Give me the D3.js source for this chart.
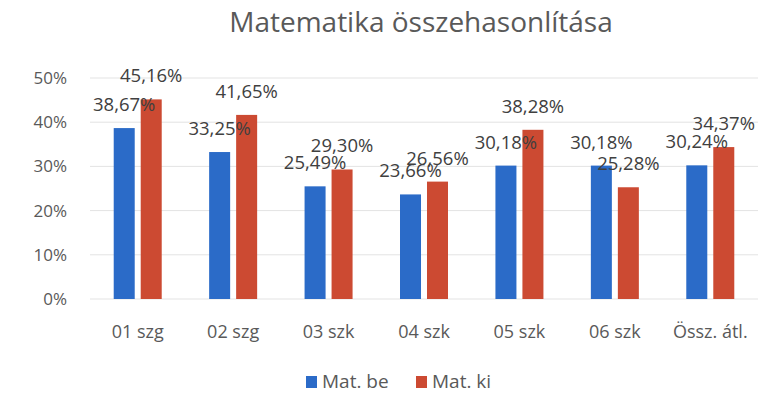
<!DOCTYPE html>
<html>
<head>
<meta charset="utf-8">
<script src="https://cdn.jsdelivr.net/npm/d3@7"></script>
<style>
  body { margin: 0; background: #fff; }
  svg { display: block; font-family: "Open Sans", sans-serif; }
</style>
</head>
<body>
<div class="svg-container"></div>
<script>
// chart data
const categories = ["01 szg", "02 szg", "03 szk", "04 szk", "05 szk", "06 szk", "Össz. átl."];
const seriesNames = ["Mat. be", "Mat. ki"];
const matBe = [38.67, 33.25, 25.49, 23.66, 30.18, 30.18, 30.24];
const matKi = [45.16, 41.65, 29.30, 26.56, 38.28, 25.28, 34.37];
const yTicks = [0, 10, 20, 30, 40, 50];
const colors = ["#2b6bc8", "#cc4a32"];

const width = 773, height = 414;
const svg = d3.select(".svg-container").append("svg")
    .attr("width", width).attr("height", height);

const x0 = d3.scaleBand().domain(categories).range([90, 758]);
const x1 = d3.scaleBand().domain(seriesNames).range([-24, 24]).paddingInner(0.222);
const y = d3.scaleLinear().domain([0, 50]).range([299, 78]);

// gridlines
svg.append("g").selectAll("line").data(yTicks).enter().append("line")
    .attr("x1", 90).attr("x2", 758)
    .attr("y1", d => y(d)).attr("y2", d => y(d))
    .attr("stroke", "#e3e3e3").attr("stroke-width", 1);

// y labels
svg.append("g").selectAll("text").data(yTicks).enter().append("text")
    .attr("x", 67).attr("y", d => y(d) + 6)
    .attr("text-anchor", "end")
    .attr("font-size", "17px").attr("fill", "#595959")
    .text(d => d + "%");

const fmt = v => v.toFixed(2).replace(".", ",") + "%";
const series = [matBe, matKi];

series.forEach((vals, si) => {
    const g = svg.append("g");
    g.selectAll("rect").data(vals).enter().append("rect")
        .attr("x", (d, i) => x0(categories[i]) + x0.bandwidth() / 2 + x1(seriesNames[si]))
        .attr("width", x1.bandwidth())
        .attr("y", d => y(d))
        .attr("height", d => y(0) - y(d))
        .attr("fill", colors[si]);
});

// data labels drawn after bars so they overlap like the original
series.forEach((vals, si) => {
    svg.append("g").selectAll("text").data(vals).enter().append("text")
        .attr("x", (d, i) => x0(categories[i]) + x0.bandwidth() / 2 + x1(seriesNames[si]) + x1.bandwidth() / 2)
        .attr("y", d => y(d) - 17)
        .attr("text-anchor", "middle")
        .attr("font-size", "18.5px").attr("fill", "#404040")
        .text(d => fmt(d));
});

// x labels
svg.append("g").selectAll("text").data(categories).enter().append("text")
    .attr("x", d => x0(d) + x0.bandwidth() / 2)
    .attr("y", 338)
    .attr("text-anchor", "middle")
    .attr("font-size", "18px").attr("fill", "#595959")
    .text(d => d);

// title
svg.append("text")
    .attr("x", 421).attr("y", 32)
    .attr("text-anchor", "middle")
    .attr("font-size", "28px").attr("fill", "#595959")
    .text("Matematika összehasonlítása");

// legend
const legendX = [306, 416];
const lg = svg.append("g").selectAll("g").data(seriesNames).enter().append("g")
    .attr("transform", (d, i) => "translate(" + legendX[i] + ",376)");
lg.append("rect").attr("width", 11).attr("height", 12).attr("fill", (d, i) => colors[i]);
lg.append("text").attr("x", 16).attr("y", 12)
    .attr("font-size", "19px").attr("fill", "#595959")
    .text(d => d);
</script>
</body>
</html>
